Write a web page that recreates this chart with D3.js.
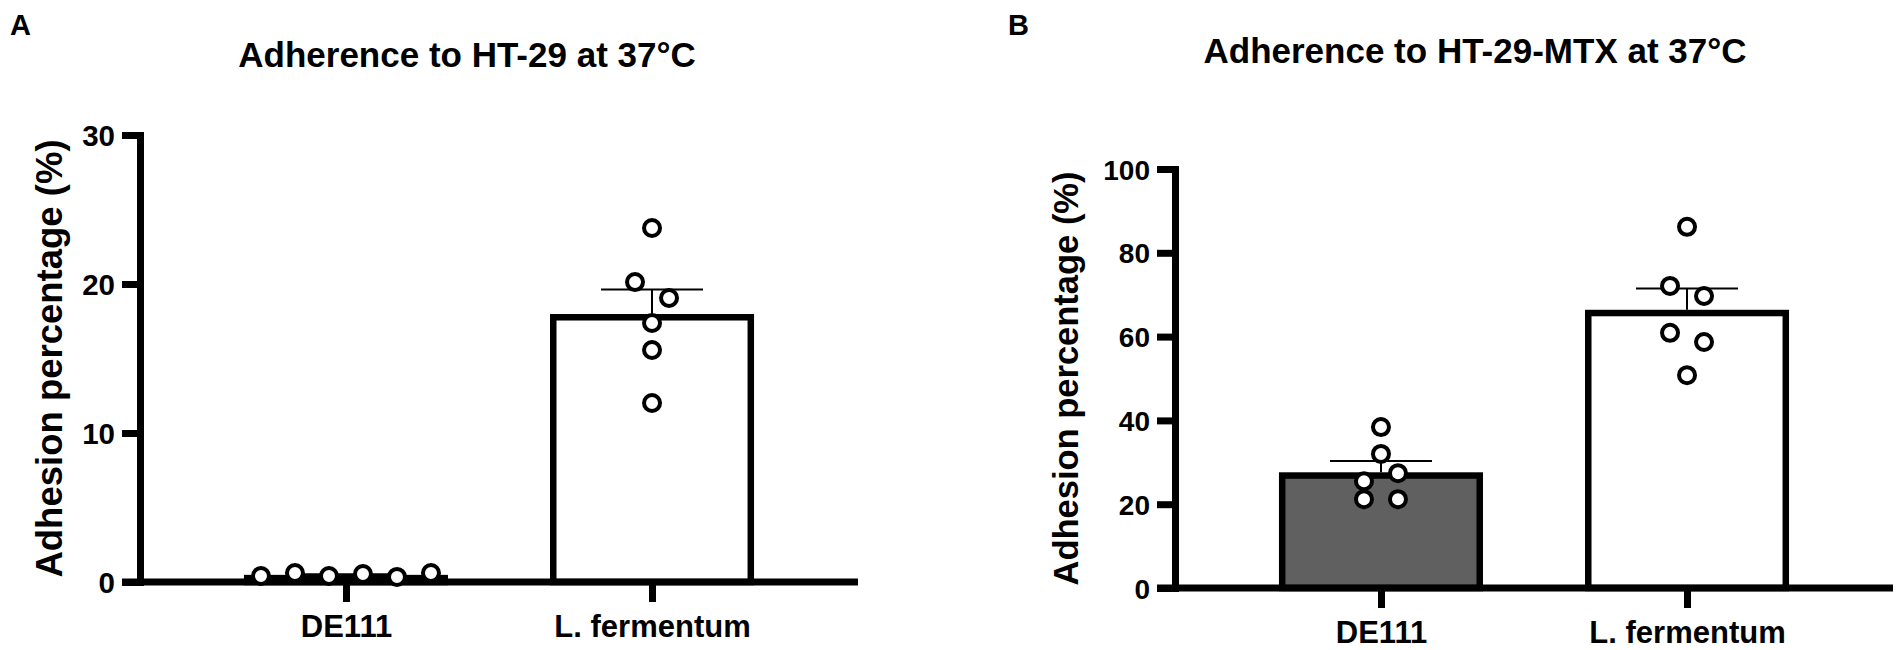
<!DOCTYPE html>
<html>
<head>
  <meta charset="utf-8">
  <title>Adherence to HT-29 / HT-29-MTX</title>
  <script src="https://cdn.jsdelivr.net/npm/d3@7"></script>
  <style>
    body { margin: 0; background: #fff; }
    svg text { font-family: "Liberation Sans", Arial, Helvetica, sans-serif; font-weight: bold; fill: #000; }
  </style>
</head>
<body>
<svg id="chart" width="1904" height="650"></svg>
<script>
// values (adhesion %, one point per replicate)
var categories = ["DE111", "L. fermentum"];

var ht29DE111 = [0.40, 0.60, 0.40, 0.54, 0.34, 0.60];
var ht29Ferm  = [23.76, 20.13, 19.06, 17.38, 15.57, 12.01];
var ht29Ticks = [0, 10, 20, 30];

var mtxDE111 = [38.4, 32.0, 25.5, 27.4, 21.2, 21.2];
var mtxFerm  = [86.2, 72.1, 69.7, 60.9, 58.7, 50.8];
var mtxTicks = [0, 20, 40, 60, 80, 100];

var barFills = ["#606060", "#ffffff"];

var svg = d3.select("#chart");

function mean(a) { return d3.mean(a); }
function sem(a) { return d3.deviation(a) / Math.sqrt(a.length); }

// GraphPad-like scatter: points close in height share a row, spread symmetrically
function spread(vals, y, gap, tol) {
  var offs = [], row = [], rowY = null;
  function flush() {
    row.forEach(function(idx, k) { offs[idx] = (k - (row.length - 1) / 2) * gap; });
    row = [];
  }
  vals.forEach(function(v, i) {
    var py = y(v);
    if (rowY === null || Math.abs(py - rowY) > tol) { flush(); rowY = py; }
    row.push(i);
  });
  flush();
  return offs;
}

function panel(o) {
  var g = svg.append("g");

  var y = d3.scaleLinear().domain([0, o.ticks[o.ticks.length - 1]]).range([o.y0, o.y1]);
  var x = d3.scalePoint().domain(categories).range([o.x0, o.x1]).padding(0.673);
  var barW = x.step() * 2 / 3;
  var bw = 6.5;  // bar border, drawn inside the bar

  // bars
  o.series.forEach(function(vals, i) {
    var m = mean(vals);
    g.append("rect")
      .attr("x", x(categories[i]) - barW / 2 + bw / 2)
      .attr("y", y(m) + bw / 2)
      .attr("width", barW - bw)
      .attr("height", Math.max(0, y(0) - y(m) - bw / 2))
      .attr("fill", barFills[i])
      .attr("stroke", "#000")
      .attr("stroke-width", bw);
  });

  // error bars (mean + SEM)
  o.series.forEach(function(vals, i) {
    var cx = x(categories[i]), m = mean(vals), top = m + sem(vals);
    g.append("line").attr("x1", cx).attr("x2", cx).attr("y1", y(m)).attr("y2", y(top))
      .attr("stroke", "#000").attr("stroke-width", 2);
    g.append("line").attr("x1", cx - 51).attr("x2", cx + 51).attr("y1", y(top)).attr("y2", y(top))
      .attr("stroke", "#000").attr("stroke-width", 2);
  });

  // axes
  var yAxis = d3.axisLeft(y).tickValues(o.ticks).tickSize(18).tickSizeOuter(0).tickPadding(7);
  var ya = g.append("g").attr("transform", "translate(" + o.x0 + ",0)").call(yAxis);
  ya.select(".domain").attr("stroke-width", 7).attr("stroke-linecap", "square");
  ya.selectAll(".tick line").attr("stroke-width", 7);
  ya.selectAll(".tick text").style("font-size", o.tickFont + "px").attr("dy", "0.36em");

  var xAxis = d3.axisBottom(x).tickSize(20).tickSizeOuter(0).tickPadding(13);
  var xa = g.append("g").attr("transform", "translate(0," + y(0) + ")").call(xAxis);
  xa.select(".domain").remove();
  xa.selectAll(".tick line").attr("stroke-width", 7);
  xa.selectAll(".tick text").style("font-size", "31px");

  g.append("line")
    .attr("x1", o.x0 - 18).attr("x2", o.x1)
    .attr("y1", y(0)).attr("y2", y(0))
    .attr("stroke", "#000").attr("stroke-width", 7);

  // points
  o.series.forEach(function(vals, i) {
    var offs = spread(vals, y, 34, 17.5);
    g.selectAll(null).data(vals).enter().append("circle")
      .attr("cx", function(d, k) { return x(categories[i]) + offs[k]; })
      .attr("cy", function(d) { return y(d); })
      .attr("r", 8)
      .attr("fill", "#fff")
      .attr("stroke", "#000")
      .attr("stroke-width", 4);
  });

  // labels
  g.append("text")
    .attr("transform", "translate(" + (o.x0 - o.labelOff) + "," + ((o.y0 + o.y1) / 2) + ") rotate(-90)")
    .attr("text-anchor", "middle")
    .style("font-size", o.labelFont + "px")
    .text("Adhesion percentage (%)");

  g.append("text")
    .attr("x", o.titleX).attr("y", o.titleY)
    .attr("text-anchor", "middle")
    .style("font-size", "35px")
    .text(o.title);

  g.append("text")
    .attr("x", o.letterX).attr("y", 35)
    .style("font-size", "29px")
    .text(o.letter);
}

panel({
  series: [ht29DE111, ht29Ferm], ticks: ht29Ticks,
  x0: 140, x1: 858, y0: 582, y1: 135,
  tickFont: 29.5, labelFont: 36.5, labelOff: 78,
  title: "Adherence to HT-29 at 37°C", titleX: 467, titleY: 67,
  letter: "A", letterX: 10
});

panel({
  series: [mtxDE111, mtxFerm], ticks: mtxTicks,
  x0: 1175, x1: 1893, y0: 588, y1: 169,
  tickFont: 28, labelFont: 34.5, labelOff: 97,
  title: "Adherence to HT-29-MTX at 37°C", titleX: 1475, titleY: 63,
  letter: "B", letterX: 1008
});
</script>
</body>
</html>
